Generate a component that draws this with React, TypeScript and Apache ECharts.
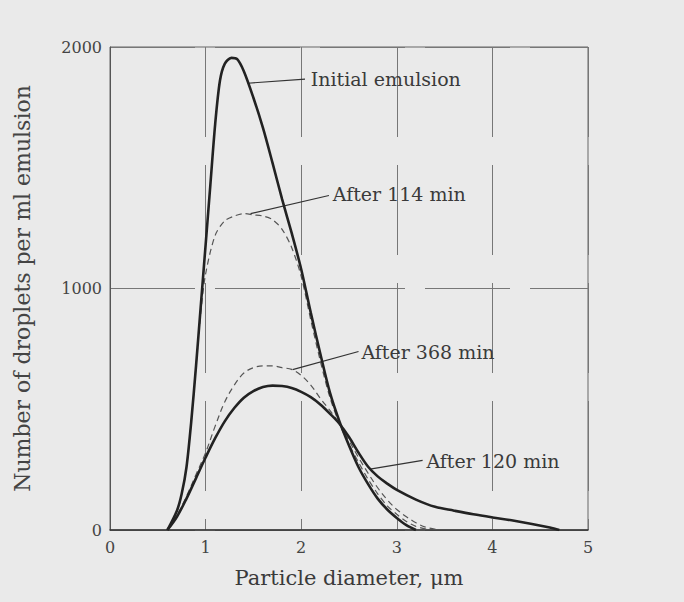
import React, { useEffect, useRef } from "react";
import * as echarts from "echarts";

const xTicks = [0, 1, 2, 3, 4, 5];
const yTicks = [0, 1000, 2000];

const initialX = [0.6, 0.7, 0.75, 0.8, 0.85, 0.9, 0.95, 1.0, 1.05, 1.1, 1.15, 1.2, 1.27, 1.33, 1.4, 1.5, 1.6, 1.7, 1.8, 1.9, 2.0, 2.1, 2.2, 2.3, 2.4, 2.5, 2.6, 2.7, 2.8, 2.9, 3.0, 3.1, 3.2];
const initialY = [0, 80, 150, 260, 450, 680, 930, 1180, 1430, 1680, 1860, 1930, 1955, 1950, 1900, 1790, 1665, 1520, 1370, 1230, 1080, 900, 730, 570, 450, 350, 260, 190, 130, 85, 50, 20, 0];

const m114X = [0.6, 0.7, 0.75, 0.8, 0.85, 0.9, 0.95, 1.0, 1.1, 1.2, 1.3, 1.4, 1.5, 1.6, 1.7, 1.8, 1.9, 2.0, 2.1, 2.2, 2.3, 2.4, 2.5, 2.6, 2.7, 2.8, 2.9, 3.0, 3.1, 3.2, 3.35];
const m114Y = [0, 80, 150, 260, 450, 680, 900, 1060, 1220, 1280, 1300, 1310, 1305, 1300, 1285, 1245, 1170, 1050, 870, 700, 550, 440, 355, 280, 210, 150, 100, 65, 35, 15, 0];

const m368X = [0.6, 0.7, 0.8, 0.9, 1.0, 1.1, 1.2, 1.3, 1.4, 1.5, 1.6, 1.7, 1.8, 1.9, 2.0, 2.1, 2.2, 2.3, 2.4, 2.5, 2.6, 2.7, 2.8, 2.9, 3.0, 3.1, 3.2, 3.3, 3.45];
const m368Y = [0, 60, 140, 230, 320, 430, 530, 600, 650, 672, 680, 680, 672, 665, 640, 600, 545, 495, 440, 370, 300, 235, 175, 125, 85, 55, 30, 12, 0];

const m120X = [0.6, 0.7, 0.8, 0.9, 1.0, 1.1, 1.2, 1.3, 1.4, 1.5, 1.6, 1.7, 1.8, 1.9, 2.0, 2.1, 2.2, 2.3, 2.4, 2.5, 2.6, 2.7, 2.8, 2.9, 3.0, 3.2, 3.4, 3.6, 3.8, 4.0, 4.2, 4.4, 4.6, 4.7];
const m120Y = [0, 55, 130, 215, 300, 380, 450, 505, 548, 575, 592, 598, 596, 588, 572, 550, 520, 482, 440, 385, 320, 262, 222, 192, 166, 126, 96, 80, 65, 52, 40, 26, 10, 0];

const labels = ["Initial emulsion", "After 114 min", "After 368 min", "After 120 min"];
const leaderFrom = [[1.44, 1850], [1.47, 1310], [1.91, 664], [2.72, 252]];
const leaderTo = [[2.04, 1867], [2.29, 1385], [2.6, 739], [3.27, 288]];
const labelAt = [[2.1, 1867], [2.33, 1390], [2.63, 739], [3.31, 286]];

const zip = (xs: number[], ys: number[]) => xs.map((x, i) => [x, ys[i]]);

const FONT = "'DejaVu Serif', 'Liberation Serif', serif";

export default function App() {
  const ref = useRef<HTMLDivElement>(null);
  useEffect(() => {
    if (!ref.current) return;
    const chart = echarts.init(ref.current, undefined, { renderer: "svg" });
    const solid = { color: "#222", width: 2.6 };
    const dashed = { color: "#555", width: 1.2, type: [6, 4] as any };
    const annot = labels.map((t, i) => ({
      type: "line",
      data: [leaderFrom[i], leaderTo[i]],
      showSymbol: false,
      silent: true,
      lineStyle: { color: "#333", width: 1.2 },
      markPoint: {
        symbol: "circle",
        symbolSize: 0,
        data: [{ coord: labelAt[i] }],
        label: {
          show: true,
          position: "right",
          distance: 0,
          formatter: t,
          color: "#3a3a3a",
          fontFamily: FONT,
          fontSize: 19,
        },
      },
    }));
    chart.setOption({
      animation: false,
      backgroundColor: "#eaeaea",
      grid: {
        left: 110,
        right: 96,
        top: 47,
        bottom: 72,
        show: true,
        borderColor: "#666",
        borderWidth: 1,
      },
      xAxis: {
        type: "value",
        min: 0,
        max: 5,
        interval: 1,
        name: "Particle diameter, μm",
        nameLocation: "middle",
        nameGap: 37,
        nameTextStyle: { color: "#3a3a3a", fontFamily: FONT, fontSize: 21 },
        axisLine: { show: true, lineStyle: { color: "#333", width: 1.5 } },
        axisTick: { show: false },
        axisLabel: {
          color: "#444",
          fontFamily: FONT,
          fontSize: 16,
          margin: 9,
          customValues: xTicks,
        },
        splitLine: { show: true, lineStyle: { color: "#777", width: 1, type: [90, 28] } },
      },
      yAxis: {
        type: "value",
        min: 0,
        max: 2000,
        interval: 1000,
        name: "Number of droplets per ml emulsion",
        nameLocation: "middle",
        nameGap: 77,
        nameTextStyle: { color: "#444", fontFamily: FONT, fontSize: 22 },
        axisLine: { show: true, lineStyle: { color: "#555", width: 1 } },
        axisTick: { show: false },
        axisLabel: {
          color: "#444",
          fontFamily: FONT,
          fontSize: 16,
          margin: 8,
          customValues: yTicks,
          formatter: (v: number) => String(v),
        },
        splitLine: { show: true, lineStyle: { color: "#777", width: 1, type: [85, 20] } },
      },
      series: [
        { type: "line", name: labels[0], data: zip(initialX, initialY), smooth: 0.3, showSymbol: false, lineStyle: solid, z: 5 },
        { type: "line", name: labels[1], data: zip(m114X, m114Y), smooth: 0.3, showSymbol: false, lineStyle: dashed, z: 4 },
        { type: "line", name: labels[2], data: zip(m368X, m368Y), smooth: 0.35, showSymbol: false, lineStyle: dashed, z: 4 },
        { type: "line", name: labels[3], data: zip(m120X, m120Y), smooth: 0.35, showSymbol: false, lineStyle: solid, z: 5 },
        ...annot,
      ],
    });
    return () => chart.dispose();
  }, []);
  return (
    <div style={{ position: "fixed", left: 0, top: 0, width: 684, height: 602, background: "#eaeaea" }}>
      <div ref={ref} style={{ width: 684, height: 602 }} />
    </div>
  );
}
